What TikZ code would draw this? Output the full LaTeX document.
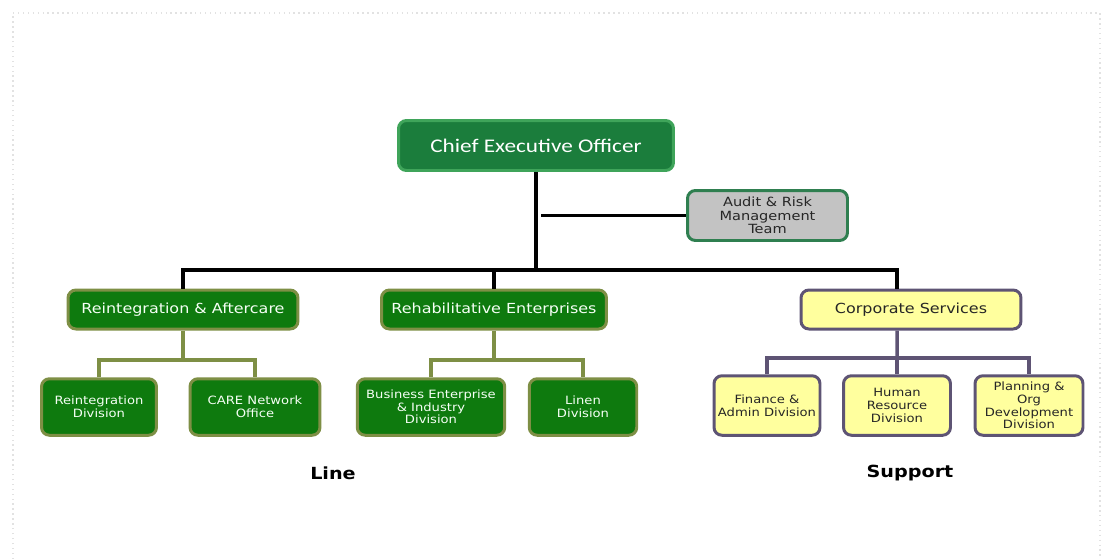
\documentclass[tikz,border=0pt]{standalone}
\usepackage{fontspec}
\setmainfont{DejaVu Sans}[FakeStretch=1.15]
\newfontfamily\ceofont{Carlito}[FakeStretch=1.2]
\definecolor{ceoGreen}{HTML}{1B7D3C}
\definecolor{ceoEdge}{HTML}{3FA45A}
\definecolor{lineGreen}{HTML}{0E7A0E}
\definecolor{lineEdge}{HTML}{7E8F45}
\definecolor{supportFill}{HTML}{FFFF9E}
\definecolor{supportEdge}{HTML}{5E5474}
\definecolor{auditFill}{HTML}{C3C3C3}
\definecolor{auditEdge}{HTML}{2F7F50}
\definecolor{frameGray}{HTML}{E2E2E2}
\newlength{\BoxRadius}
\newlength{\EdgeWidth}
\setlength{\BoxRadius}{4.5pt}
\setlength{\EdgeWidth}{1.7pt}
\tikzset{
  org box/.style={rounded corners=\BoxRadius, line width=\EdgeWidth, align=center, inner sep=1pt},
  ceo box/.style={org box, draw=ceoEdge, fill=ceoGreen, text=white,
    font=\ceofont\fontsize{11}{13}\selectfont, minimum width=5.5cm, minimum height=1.0cm},
  audit box/.style={org box, draw=auditEdge, fill=auditFill, text=black!85,
    font=\fontsize{7.2}{7.8}\selectfont, minimum width=3.2cm, minimum height=1.0cm},
  head box/.style={org box, minimum height=0.78cm, font=\fontsize{7.9}{9}\selectfont},
  sub box/.style={org box, minimum height=1.13cm, font=\fontsize{6.5}{7.2}\selectfont},
  line head/.style={head box, draw=lineEdge, fill=lineGreen, text=green!4!white},
  line sub/.style={sub box, draw=lineEdge, fill=lineGreen, text=green!4!white},
  support head/.style={head box, draw=supportEdge, fill=supportFill, text=black!85},
  support sub/.style={sub box, draw=supportEdge, fill=supportFill, text=black!85,
    minimum height=1.19cm},
  trunk/.style={line width=2pt, black},
  line link/.style={line width=2pt, lineEdge},
  support link/.style={line width=2pt, supportEdge},
  group label/.style={font=\bfseries\fontsize{9.5}{11}\selectfont},
}

\begin{document}
\begin{tikzpicture}[x=0.02cm, y=-0.02cm]
  \useasboundingbox (0,0) rectangle (1105,559);
  \draw[frameGray, dotted, line width=0.8pt] (13,559) -- (13,13) -- (1100,13) -- (1100,559);

  % top
  \node[ceo box] (ceo) at (536,145.5) {Chief Executive Officer};
  \node[audit box] (audit) at (767.5,215.5) {Audit \& Risk\\Management\\Team};

  % heads
  \node[line head, minimum width=4.6cm] (ra) at (183,309.5) {Reintegration \& Aftercare};
  \node[line head, minimum width=4.5cm] (re) at (494,309.5) {Rehabilitative Enterprises};
  \node[support head, minimum width=4.4cm] (cs) at (911,309.5) {Corporate Services};

  % divisions
  \node[line sub, minimum width=2.3cm] (reint) at (99,407) {Reintegration\\Division};
  \node[line sub, minimum width=2.6cm] (care) at (255,407) {CARE Network\\Office};
  \node[line sub, minimum width=2.95cm] (bei) at (431,407) {Business Enterprise\\\& Industry\\Division};
  \node[line sub, minimum width=2.15cm] (linen) at (583,407) {Linen\\Division};
  \node[support sub, minimum width=2.12cm] (fin) at (767,405.5) {Finance \&\\Admin Division};
  \node[support sub, minimum width=2.14cm] (hr) at (897,405.5) {Human\\Resource\\Division};
  \node[support sub, minimum width=2.16cm] (plan) at (1029,405.5) {Planning \&\\Org\\Development\\Division};

  \node[group label] (line) at (333,473) {Line};
  \node[group label] (support) at (910,473) {Support};

  % connectors
  \coordinate (hub) at (536,270);
  \draw[trunk] (ceo.south) -- (hub);
  \draw[trunk] ([xshift=0.1cm]ceo.south |- audit.west) -- (audit.west);
  \draw[trunk] (ra.north) |- (hub) -| ([xshift=-0.28cm]cs.north);
  \draw[trunk] (re.north) -- (re.north |- hub);

  \coordinate (ra fork) at (183,360);
  \draw[line link] (ra.south) -- (ra fork);
  \draw[line link] (reint.north) |- (ra fork) -| (care.north);

  \coordinate (re fork) at (494,360);
  \draw[line link] (re.south) -- (re fork);
  \draw[line link] (bei.north) |- (re fork) -| (linen.north);

  \coordinate (cs fork) at (897,358);
  \draw[support link] ([xshift=-0.28cm]cs.south) -- (cs fork);
  \draw[support link] (fin.north) |- (cs fork) -| (plan.north);
  \draw[support link] (hr.north) -- (cs fork);

\end{tikzpicture}
\end{document}
